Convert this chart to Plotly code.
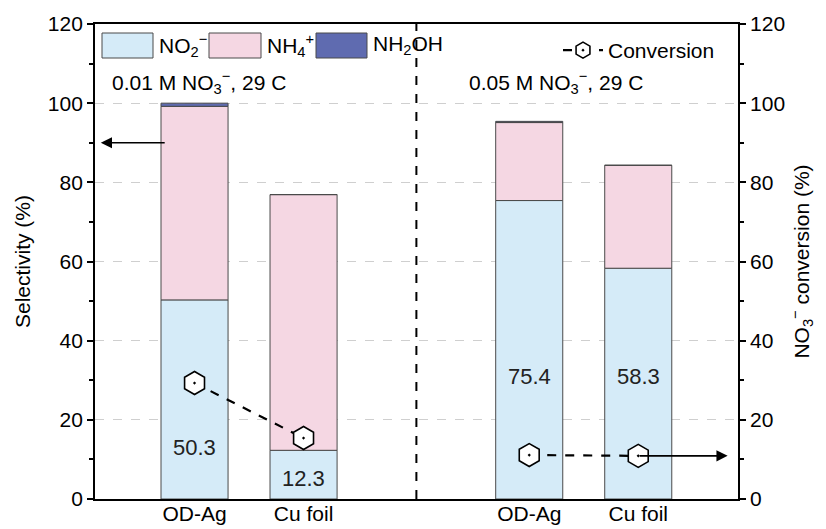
import plotly.graph_objects as go

# Data
catalysts = ["OD-Ag", "Cu foil", "OD-Ag", "Cu foil"]
sel_no2 = [50.3, 12.3, 75.4, 58.3]
sel_nh4 = [48.9, 64.6, 19.7, 26.0]
sel_nh2oh = [0.8, 0.0, 0.3, 0.0]
conversion = [29.3, 15.4, 11.1, 10.9]
conditions = ["0.01 M NO<sub>3</sub><sup>−</sup>, 29 C", "0.05 M NO<sub>3</sub><sup>−</sup>, 29 C"]

# Layout helpers
xpos = [1.0, 2.0, 4.07, 5.07]
label_y = [12.9, 5.1, 30.9, 30.9]
FONT = "Liberation Sans, Arial, sans-serif"
FS = 21
c_no2, c_nh4, c_nh2oh = "#d5ebf8", "#f5d7e3", "#5f6bb0"
edge = dict(color="#4a4a4a", width=1)
bw = 0.615

fig = go.Figure()
for vals, col, base in [
    (sel_no2, c_no2, None),
    (sel_nh4, c_nh4, sel_no2),
    (sel_nh2oh, c_nh2oh, [a + b for a, b in zip(sel_no2, sel_nh4)]),
]:
    fig.add_trace(go.Bar(x=xpos, y=vals, base=base, width=bw, marker=dict(color=col, line=edge),
                         showlegend=False, yaxis="y"))

# Conversion markers, joined within each electrolyte group
cx = xpos[:2] + [None] + xpos[2:]
cy = conversion[:2] + [None] + conversion[2:]
fig.add_trace(go.Scatter(
    x=cx, y=cy, yaxis="y2", mode="lines+markers", name="Conversion",
    line=dict(color="black", width=2.2, dash="dash"),
    marker=dict(symbol="hexagon-dot", size=23, color="white", line=dict(color="black", width=1.6)),
))

# NO2- selectivity labels
for x, y, v in zip(xpos, label_y, sel_no2):
    fig.add_annotation(x=x, y=y, text=f"{v:.1f}", showarrow=False, font=dict(size=22, family=FONT, color="#222"))

# Condition captions
fig.add_annotation(x=0.22, y=105.3, text=conditions[0], showarrow=False, xanchor="left",
                   font=dict(size=FS, family=FONT, color="black"))
fig.add_annotation(x=3.5, y=105.3, text=conditions[1], showarrow=False, xanchor="left",
                   font=dict(size=FS, family=FONT, color="black"))

# Axis-pointing arrows
fig.add_annotation(x=0.14, y=90, ax=0.74, ay=90, xref="x", yref="y", axref="x", ayref="y",
                   text="", showarrow=True, arrowhead=2, arrowsize=1.4, arrowwidth=1.6, arrowcolor="black")
fig.add_annotation(x=5.89, y=conversion[3], ax=xpos[3], ay=conversion[3], xref="x", yref="y2",
                   axref="x", ayref="y2", text="", showarrow=True, arrowhead=2, arrowsize=1.4,
                   arrowwidth=1.6, arrowcolor="black")

# Group divider
mid = (xpos[1] + xpos[2]) / 2
fig.add_shape(type="line", x0=mid, x1=mid, y0=0, y1=1, xref="x", yref="paper",
              line=dict(color="black", width=2, dash="dash"))

# Bar legend (boxes and labels)
L, R, T, B = 95, 738, 24, 499
def px(v):
    return (v - L) / (R - L)
def py(v):
    return (B - v) / (B - T)
legend_items = [(102, 153, c_no2, "NO<sub>2</sub><sup>−</sup>"),
                (209, 261, c_nh4, "NH<sub>4</sub><sup>+</sup>"),
                (316, 367, c_nh2oh, "NH<sub>2</sub>OH")]
for x0, x1, col, lab in legend_items:
    fig.add_shape(type="rect", xref="paper", yref="paper", x0=px(x0), x1=px(x1), y0=py(58), y1=py(33),
                  fillcolor=col, line=dict(color="#4a4a4a", width=1))
    fig.add_annotation(xref="paper", yref="paper", x=px(x1 + 4), y=py(45), text=lab, showarrow=False,
                       xanchor="left", yanchor="middle", font=dict(size=FS, family=FONT, color="black"))

axis_common = dict(range=[0, 120], dtick=20, ticks="outside", ticklen=6, tickwidth=1.5,
                   tickcolor="black", showline=True, linecolor="black", linewidth=1.8,
                   tickfont=dict(size=FS, family=FONT, color="black"), automargin=False,
                   minor=dict(dtick=10, ticks="outside", ticklen=4, tickwidth=1.5, tickcolor="black"),
                   zeroline=False)

fig.update_layout(
    width=826, height=529,
    margin=dict(l=L, r=826 - R, t=T, b=529 - B),
    plot_bgcolor="white", paper_bgcolor="white",
    barmode="overlay",
    font=dict(family=FONT, size=FS, color="black"),
    xaxis=dict(range=[0.087, 5.985], tickvals=xpos, ticktext=catalysts, ticks="", showline=True,
               mirror=True, linecolor="black", linewidth=1.8, showgrid=False, zeroline=False,
               automargin=False, ticklabelstandoff=-5,
               tickfont=dict(size=FS, family=FONT, color="black")),
    yaxis=dict(title=dict(text="Selectivity (%)", font=dict(size=FS, family=FONT), standoff=12),
               showgrid=True, gridcolor="#cfcfcf", griddash="dash", gridwidth=1, **axis_common),
    yaxis2=dict(title=dict(text="NO<sub>3</sub><sup>−</sup> conversion (%)", font=dict(size=FS, family=FONT), standoff=10),
                overlaying="y", side="right", showgrid=False, **axis_common),
    legend=dict(x=px(558), y=py(30), xanchor="left", yanchor="top", bgcolor="rgba(0,0,0,0)",
                font=dict(size=FS, family=FONT, color="black"), itemwidth=40),
)

fig.write_html("out.html")
